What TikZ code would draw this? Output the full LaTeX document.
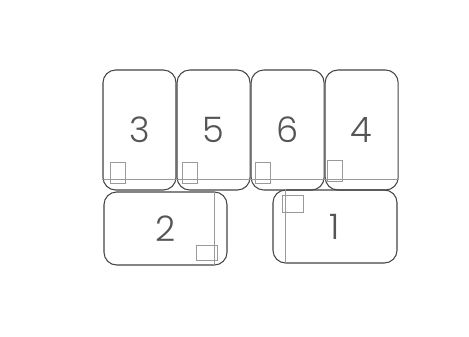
\documentclass[tikz,border=0pt]{standalone}
\usepackage{fontspec}
\usepackage{tikz}
\usetikzlibrary{positioning}
\newfontfamily\cardfont{Poppins}[UprightFont={* Light}]
\definecolor{cardEdge}{HTML}{454545}
\definecolor{cardGuide}{HTML}{9A9A9A}
\definecolor{cardText}{HTML}{555555}

\begin{document}
\begin{tikzpicture}[
    x=0.03cm, y=-0.03cm,
    node distance=0cm,
    card/.style={draw=cardEdge, line width=0.9pt, rounded corners=3.8mm,
                 minimum width=2.19cm, minimum height=3.6cm, inner sep=0pt,
                 font=\cardfont\fontsize{30}{30}\selectfont, text=cardText},
    wide/.style={card, minimum width=3.69cm, minimum height=2.19cm},
    tag/.style={draw=cardGuide, line width=0.5pt, inner sep=0pt,
                minimum width=#1},
    tag/.default=0.45cm,
    guide/.style={draw=cardGuide, line width=0.5pt}
]
    \fill[white] (0,0) rectangle (469,337);
    \useasboundingbox (0,0) rectangle (469,337);

    % --- top row ---
    \node[card] (c3) at (139.5, 130) {3};
    \node[card, right=of c3] (c5) {5};
    \node[card, right=of c5] (c6) {6};
    \node[card, right=of c6] (c4) {4};

    \node[tag, minimum height=0.63cm] (t3) at (117.5, 173) {};
    \node[tag, minimum height=0.63cm] (t5) at (189.5, 173) {};
    \node[tag, minimum height=0.63cm] (t6) at (262.5, 172.5) {};
    \node[tag, minimum height=0.63cm] (t4) at (335, 171) {};
    \draw[guide] ([yshift=0.33cm]c3.south west) -- ([yshift=0.33cm]c4.south east);

    % --- bottom row ---
    \node[wide] (c2) at (165.5, 228.5) {2};
    \node[wide, minimum width=3.72cm] (c1) at (335, 226.5) {1};

    \node[tag=0.63cm, minimum height=0.45cm] (t2) at (206.5, 252.5) {};
    \node[tag=0.63cm, minimum height=0.51cm] (t1) at (292.5, 203.5) {};
    \draw[guide] ([xshift=-0.39cm]c2.north east) -- ([xshift=-0.39cm]c2.south east);
    \draw[guide] ([xshift=0.39cm]c1.north west) -- ([xshift=0.39cm]c1.south west);
\end{tikzpicture}
\end{document}
